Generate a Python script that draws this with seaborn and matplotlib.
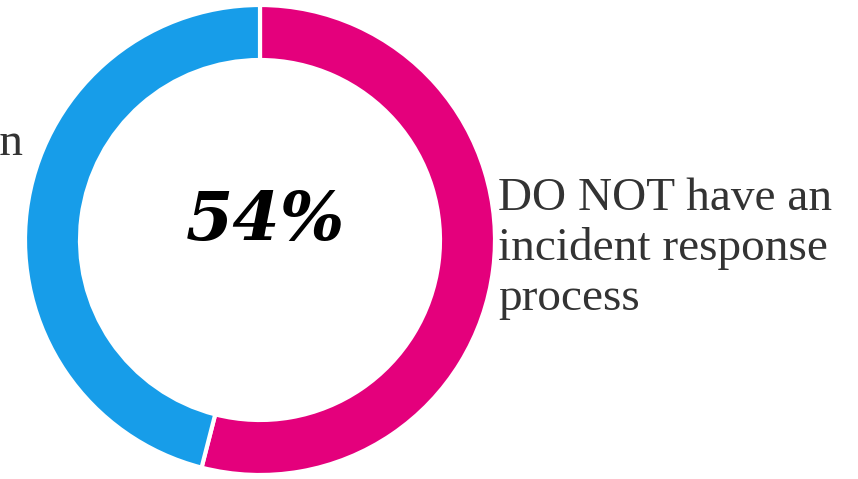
import matplotlib
matplotlib.use("Agg")
import matplotlib.pyplot as plt
import seaborn as sns

# Share of organisations with / without an incident response process
categories = ["DO NOT have an\nincident response\nprocess", "DO have an\nincident response\nprocess"]
shares = [54, 46]
colors = ["#E4007C", "#179DE9"]
headline = "54%"

sns.set_theme(style="white")
plt.rcParams["font.family"] = ["Liberation Serif", "DejaVu Serif"]

W, H = 858, 479
fig = plt.figure(figsize=(W / 100, H / 100), dpi=100)
ax = fig.add_axes([0, 0, 1, 1])

# work in pixel-like units, y measured from the bottom
cx, cy, r_out, ring = 260, H - 240, 235, 55
ax.pie(shares, colors=colors, startangle=90, counterclock=False,
       center=(cx, cy), radius=r_out, frame=True,
       wedgeprops=dict(width=ring, edgecolor="white", linewidth=3))
ax.set_xlim(0, W)
ax.set_ylim(0, H)
ax.set_aspect("equal")
ax.axis("off")

ax.text(cx + 5, H - 240, headline, ha="center", va="baseline",
        fontsize=49, fontweight="bold", fontstyle="italic", color="black",
        family=["DejaVu Serif"])

text_color = "#333333"
for i, line in enumerate(categories[0].split("\n")):
    ax.text(498, H - (210 + 50 * i), line, ha="left", va="baseline",
            fontsize=34, color=text_color)
ax.text(23, H - 155, categories[1].split("\n")[0], ha="right", va="baseline",
        fontsize=34, color=text_color)

fig.savefig("out.png", dpi=100, facecolor="white")
